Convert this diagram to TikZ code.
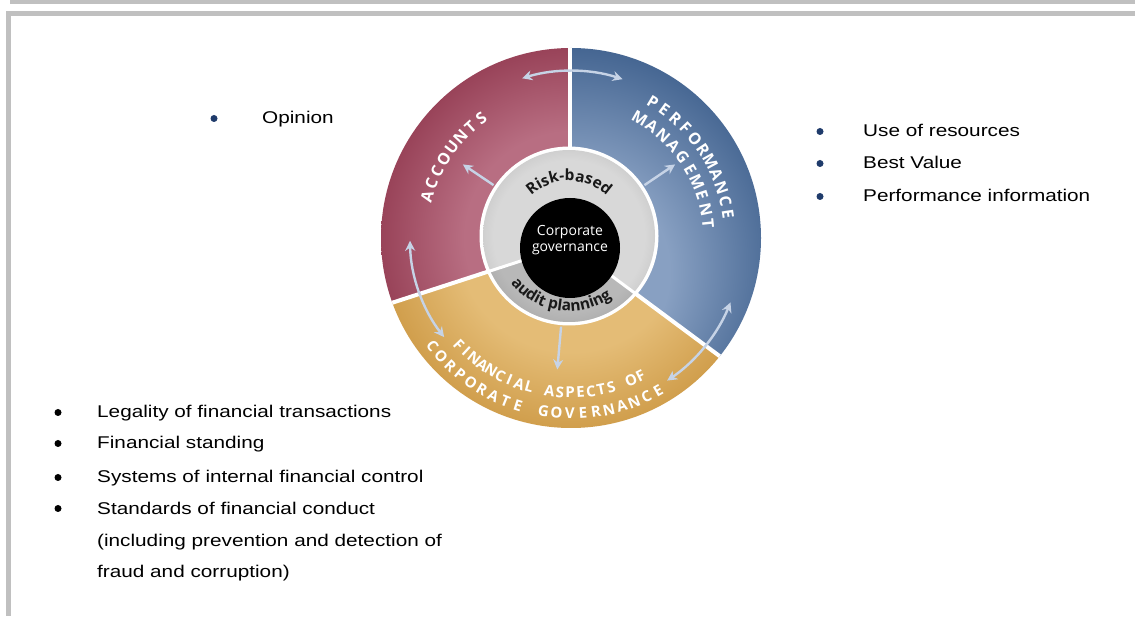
\documentclass[tikz,border=0pt]{standalone}
\usepackage{fontspec}
\setmainfont{Liberation Sans}
\newfontfamily\listfont[FakeStretch=1.22]{Liberation Sans}
\newfontfamily\capfont{Open Sans}
\usetikzlibrary{arrows.meta,calc,decorations.text}
\definecolor{bordergray}{HTML}{C0C0C0}
\definecolor{marD}{HTML}{85283F}
\definecolor{marL}{HTML}{B86E82}
\definecolor{bluD}{HTML}{24497A}
\definecolor{bluL}{HTML}{88A0C2}
\definecolor{golD}{HTML}{BF8427}
\definecolor{golL}{HTML}{E4BC76}
\definecolor{ringL}{HTML}{D8D8D8}
\definecolor{ringD}{HTML}{B2B2B2}
\definecolor{ringTL}{HTML}{B8B8B8}
\definecolor{ringTD}{HTML}{979797}
\definecolor{arrowc}{HTML}{C6D3E6}
\definecolor{navy}{HTML}{1F3B6B}
\pgfdeclareradialshading{marsh}{\pgfpoint{0bp}{0bp}}{color(0bp)=(marL);color(14bp)=(marL);color(32bp)=(marD);color(50bp)=(marD)}
\pgfdeclareradialshading{blush}{\pgfpoint{0bp}{-6bp}}{color(0bp)=(bluL);color(13bp)=(bluL);color(35bp)=(bluD);color(50bp)=(bluD)}
\pgfdeclareradialshading{golsh}{\pgfpoint{0bp}{0bp}}{color(0bp)=(golL);color(15bp)=(golL);color(34bp)=(golD);color(50bp)=(golD)}
\pgfdeclareradialshading{ringsh}{\pgfpoint{0bp}{0bp}}{color(0bp)=(ringL);color(22bp)=(ringL);color(35bp)=(ringD);color(50bp)=(ringD)}
\pgfdeclareradialshading{ringtsh}{\pgfpoint{0bp}{0bp}}{color(0bp)=(ringTL);color(22bp)=(ringTL);color(35bp)=(ringTD);color(50bp)=(ringTD)}
\newcommand\arcout[4]{%
  \foreach \ch [count=\k from 0] in {#4}{%
    \pgfmathsetmacro\ang{#2-\k*#3}
    \node[capl, rotate=\ang-90] at ($(C)+(\ang:#1)$) {\ch};
  }}
\newcommand\arcin[4]{%
  \foreach \ch [count=\k from 0] in {#4}{%
    \pgfmathsetmacro\ang{#2+\k*#3}
    \node[capl, capsmall, rotate=\ang+90] at ($(C)+(\ang:#1)$) {\ch};
  }}
\begin{document}
\begin{tikzpicture}[x=1pt,y=1pt,
  sep/.style={white, line width=4pt},
  flow/.style={draw=arrowc, line width=2.4pt, -{Stealth[length=10pt,width=10pt]}},
  flowtwo/.style={draw=arrowc, line width=2.4pt, {Stealth[length=10pt,width=10pt]}-{Stealth[length=10pt,width=10pt]}},
  capl/.style={font=\capfont\bfseries\fontsize{16}{16}\selectfont, text=white, inner sep=0pt, anchor=base},
  capsmall/.style={font=\capfont\bfseries\fontsize{15}{15}\selectfont},
  item/.style={font=\listfont\fontsize{17}{17}\selectfont, anchor=base west, inner sep=0pt},
  bul/.style={circle, fill=black, inner sep=0pt, minimum size=7pt}]
\useasboundingbox (0,0) rectangle (1135,616);
\fill[white] (0,0) rectangle (1135,616);
% frame
\fill[bordergray] (10,612) rectangle (1135,616);
\fill[bordergray] (6,600) rectangle (1135,605);
\fill[bordergray] (6,0) rectangle (11,605);

\coordinate (C) at (571,378);
\coordinate (H) at (570,371);
\coordinate (Rc) at (569,380);
\coordinate (Bc) at (570,368);

% segments
\begin{scope}
  \clip (C) circle (190);
  \begin{scope}
    \clip (H) -- ($(H)+(90:400)$) -- ($(H)+(144:400)$) -- ($(H)+(198:400)$) -- cycle;
    \shade[shading=marsh] (C) circle (190);
  \end{scope}
  \begin{scope}
    \clip (H) -- ($(H)+(-36.6:400)$) -- ($(H)+(5:400)$) -- ($(H)+(47.5:400)$) -- ($(H)+(90:400)$) -- cycle;
    \shade[shading=blush] (C) circle (190);
  \end{scope}
  \begin{scope}
    \clip (H) -- ($(H)+(198:400)$) -- ($(H)+(240:400)$) -- ($(H)+(282:400)$) -- ($(H)+(323.4:400)$) -- cycle;
    \shade[shading=golsh] (C) circle (190);
  \end{scope}
  \coordinate (s1) at ($(H)+(90:220)$);
  \coordinate (s2) at ($(H)+(198:220)$);
  \coordinate (s3) at ($(H)+(323.4:220)$);
  \draw[sep] (H) -- (s1);
  \draw[sep] (H) -- (s2);
  \draw[sep] (H) -- (s3);
\end{scope}

% inner ring
\fill[white] (Rc) circle (89.5);
\shade[shading=ringsh] (Rc) circle (86);
\begin{scope}
  \clip (H) -- ($(H)+(198:150)$) -- ($(H)+(260:150)$) -- ($(H)+(323.4:150)$) -- cycle;
  \shade[shading=ringtsh] (Rc) circle (86);
\end{scope}
\coordinate (r2) at ($(H)+(198:95)$);
\coordinate (r3) at ($(H)+(323.4:95)$);
\draw[white, line width=3pt] (H) -- (r2);
\draw[white, line width=3pt] (H) -- (r3);
\fill[black] (Bc) circle (50);

% radial arrows
\coordinate (a1s) at ($(Rc)+(146:91)$);
\coordinate (a1e) at ($(Rc)+(146:128)$);
\coordinate (a2s) at ($(Rc)+(34:91)$);
\coordinate (a2e) at ($(Rc)+(34:128)$);
\coordinate (a3s) at ($(Rc)+(265:91)$);
\coordinate (a3e) at ($(Rc)+(265:134)$);
\draw[flow] (a1s) -- (a1e);
\draw[flow] (a2s) -- (a2e);
\draw[flow] (a3s) -- (a3e);

% curved double arrows
\coordinate (t1) at ($(C)+(107:167)$);
\coordinate (t2) at ($(C)+(181:161)$);
\coordinate (t3) at ($(C)+(-22:172)$);
\draw[flowtwo] (t1) arc[start angle=107, end angle=72, radius=167];
\draw[flowtwo] (t2) arc[start angle=181, end angle=218, radius=161];
\draw[flowtwo] (t3) arc[start angle=-22, end angle=-56, radius=172];

% segment labels
\arcout{144}{164}{5.3}{A,C,C,O,U,N,T,S}
\arcout{153}{59}{5.05}{P,E,R,F,O,R,M,A,N,C,E}
\arcout{132}{60}{6.0}{M,A,N,A,G,E,M,E,N,T}
\arcin{160}{223.5}{3.85}{F,I,N,A,N,C,I,A,L, ,A,S,P,E,C,T,S, ,O,F}
\arcin{181}{218}{4.3}{C,O,R,P,O,R,A,T,E, ,G,O,V,E,R,N,A,N,C,E}

% ring labels
\path[decorate, decoration={text along path, text align=center, text color=black!90,
  text={|\capfont\bfseries\fontsize{15.5}{15.5}\selectfont|Risk-based}}]
  ($(Rc)+(165:55)$) arc[start angle=165, end angle=15, radius=55];
\path[decorate, decoration={text along path, text align=center, text color=black!90,
  text={|\capfont\bfseries\fontsize{15.5}{15.5}\selectfont|audit planning}}]
  ($(Rc)+(180:75)$) arc[start angle=180, end angle=344, radius=75];
\node[align=center, text=white, font=\capfont\fontsize{14}{16.5}\selectfont, inner sep=0pt] (cg) at (570,376) {Corporate\\governance};

% lists
\node[bul, fill=navy] (b0) at (214,497.5) {};
\node[item] (o0) at (262,492) {Opinion};

\node[bul, fill=navy] (b1) at (820,484.5) {};
\node[item] (r1) at (863,479) {Use of resources};
\node[bul, fill=navy] (b2) at (820,452.5) {};
\node[item] (r2t) at (863,447) {Best Value};
\node[bul, fill=navy] (b3) at (820,419.5) {};
\node[item] (r3t) at (863,414) {Performance information};

\node[bul] (l1b) at (58,203.5) {};
\node[item] (l1) at (97,198) {Legality of financial transactions};
\node[bul] (l2b) at (58,172.5) {};
\node[item] (l2) at (97,167) {Financial standing};
\node[bul] (l3b) at (58,138.5) {};
\node[item] (l3) at (97,133) {Systems of internal financial control};
\node[bul] (l4b) at (58,107.5) {};
\node[item] (l4) at (97,102) {Standards of financial conduct};
\node[item] (l5) at (97,70) {(including prevention and detection of};
\node[item] (l6) at (97,39) {fraud and corruption)};
\end{tikzpicture}
\end{document}
